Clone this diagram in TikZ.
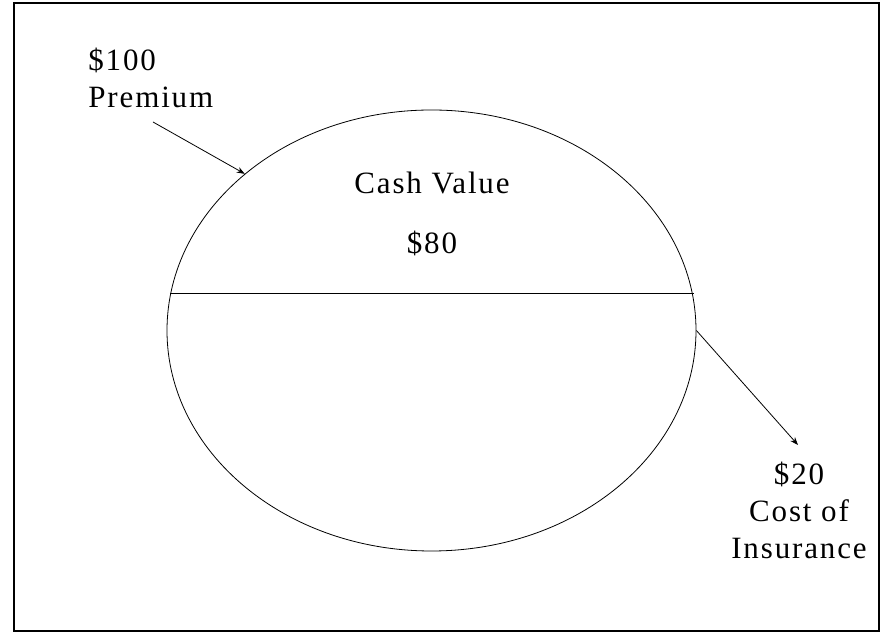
\documentclass[tikz,border=0pt]{standalone}
\usepackage{fontspec}
\setmainfont{Liberation Serif}[LetterSpace=6]
\usepackage{tikz}
\usetikzlibrary{arrows.meta,shapes.geometric}

\begin{document}
\begin{tikzpicture}[x=1pt,y=1pt,>={Stealth[length=8pt,width=6pt]},
    line width=0.8pt,font=\fontsize{31}{37}\selectfont,
    lbl/.style={inner sep=0pt,align=center}]
  \useasboundingbox (0,0) rectangle (884,634);
  \draw[line width=1.2pt] (14,3) rectangle (879,631);
  % the policy
  \node[draw,ellipse,minimum width=529pt,minimum height=441pt,inner sep=0pt] (policy) at (431.5,303.5) {};
  \draw (policy.172.6) -- (policy.172.6 -| policy.7.4);
  \node[lbl] (cash) at (432,451) {Cash Value};
  \node[lbl] (cashamt) at (432,391) {\$80};
  % premium in
  \node[lbl,align=left,anchor=west] (prem) at (88,556) {\$100\\Premium};
  \coordinate (premtail) at (153,512);
  \draw[->] (premtail) -- (policy.140.6);
  % cost of insurance out
  \node[lbl] (coi) at (799,124) {\$20\\Cost of\\Insurance};
  \coordinate (coitip) at (798,189);
  \draw[->] (policy.east) -- (coitip);
\end{tikzpicture}
\end{document}
